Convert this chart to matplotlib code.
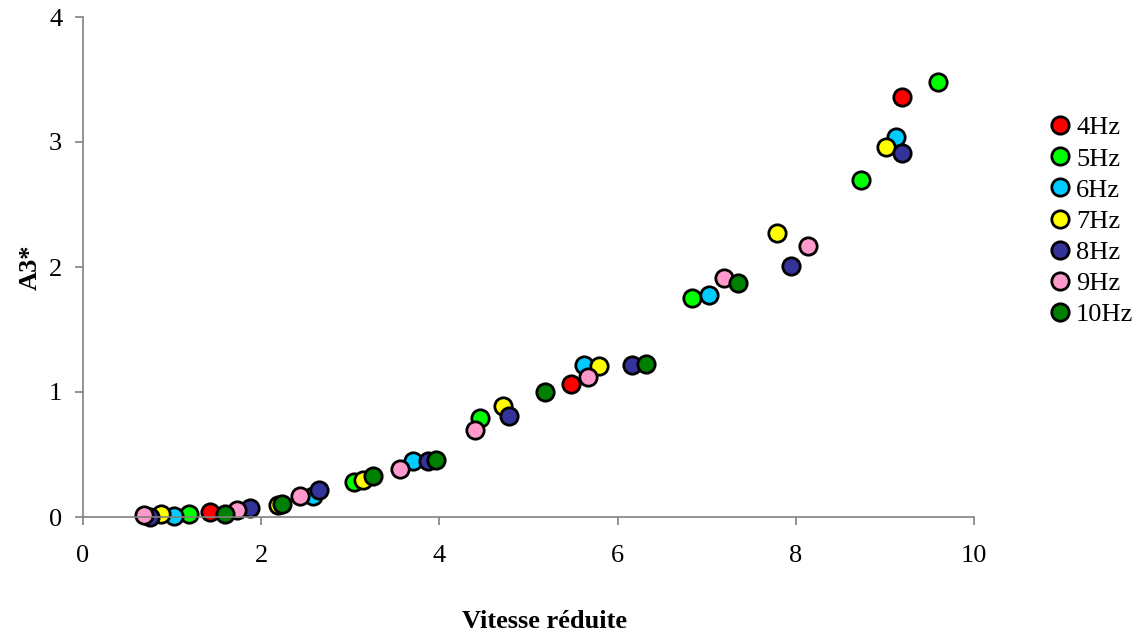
import matplotlib
matplotlib.use("Agg")
import matplotlib.pyplot as plt

plt.rcParams["font.family"] = ["Liberation Serif", "DejaVu Serif"]

SERIES = ["4Hz", "5Hz", "6Hz", "7Hz", "8Hz", "9Hz", "10Hz"]
COLORS = ["#FF0000", "#00FF00", "#00CCFF", "#FFFF00", "#333399", "#FF99CC", "#008000"]

X_4 = [1.43, 5.48, 9.19]
Y_4 = [0.04, 1.066, 3.36]
X_5 = [1.19, 3.04, 4.46, 6.84, 8.73, 9.60]
Y_5 = [0.026, 0.28, 0.79, 1.75, 2.70, 3.48]
X_6 = [1.02, 2.58, 3.70, 5.62, 7.03, 9.12]
Y_6 = [0.008, 0.17, 0.448, 1.22, 1.78, 3.04]
X_7 = [0.876, 2.19, 3.14, 4.71, 5.79, 7.79, 9.01]
Y_7 = [0.024, 0.10, 0.296, 0.888, 1.205, 2.27, 2.96]
X_8 = [0.75, 1.87, 2.65, 3.87, 4.78, 6.16, 7.95, 9.19]
Y_8 = [0.0, 0.074, 0.216, 0.448, 0.81, 1.216, 2.01, 2.91]
X_9 = [0.69, 1.73, 2.44, 3.56, 4.40, 5.67, 7.19, 8.14]
Y_9 = [0.016, 0.058, 0.168, 0.384, 0.70, 1.12, 1.91, 2.17]
X_10 = [1.59, 2.23, 3.26, 3.96, 5.18, 6.32, 7.35]
Y_10 = [0.026, 0.104, 0.328, 0.456, 0.998, 1.224, 1.87]

XS = [X_4, X_5, X_6, X_7, X_8, X_9, X_10]
YS = [Y_4, Y_5, Y_6, Y_7, Y_8, Y_9, Y_10]

FONT_SIZE = 19

fig = plt.figure(figsize=(11.42, 6.43), dpi=100)
ax = fig.add_axes([83 / 1142, 1 - 517 / 643, (974 - 83) / 1142, 500 / 643])

for name, color, xs, ys in zip(SERIES, COLORS, XS, YS):
    ax.plot(xs, ys, linestyle="none", marker="o", markersize=12.5,
            markerfacecolor=color, markeredgecolor="black",
            markeredgewidth=2.0, label=name, clip_on=False)

ax.set_xlim(0, 10)
ax.set_ylim(0, 4)
ax.set_xticks([0, 2, 4, 6, 8, 10])
ax.set_yticks([0, 1, 2, 3, 4])
for side in ["top", "right"]:
    ax.spines[side].set_visible(False)
for side in ["left", "bottom"]:
    ax.spines[side].set_color("#808080")
    ax.spines[side].set_linewidth(1.2)
ax.tick_params(axis="both", direction="out", length=6, width=1.2,
               color="#808080", labelsize=FONT_SIZE)
ax.tick_params(axis="x", pad=14)
ax.tick_params(axis="y", pad=9)

ax.set_xlabel("Vitesse réduite", fontsize=FONT_SIZE, fontweight="bold")
ax.xaxis.set_label_coords((544 - 83) / 891, -(610 - 517) / 500)
ax.set_ylabel("A3*", fontsize=FONT_SIZE, fontweight="bold")
ax.yaxis.set_label_coords(-(83 - 42) / 891, 0.5)

ax.legend(loc="upper left", bbox_to_anchor=(1.082, 0.802), frameon=False,
          fontsize=FONT_SIZE, handlelength=1.0, handletextpad=0.1,
          labelspacing=0.29, borderpad=0, borderaxespad=0)

fig.savefig("out.png", dpi=100)
